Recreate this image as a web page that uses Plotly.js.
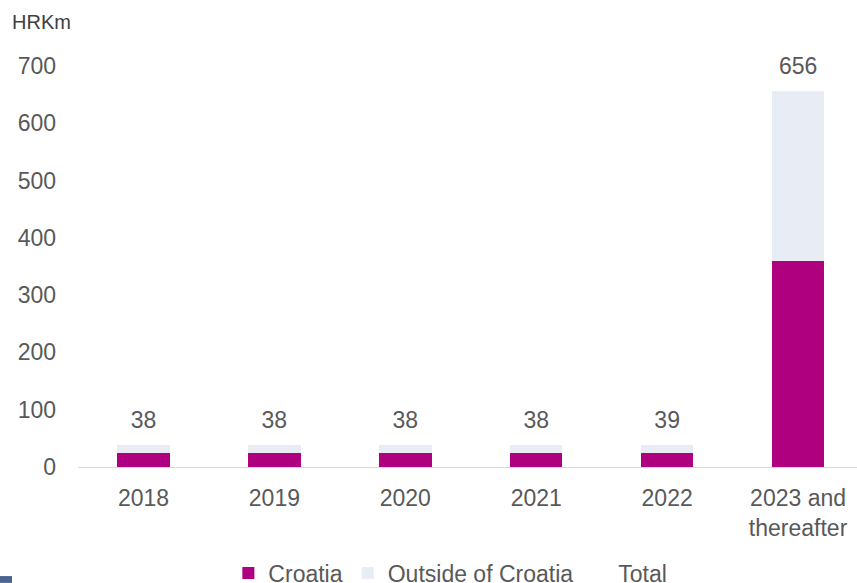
<!DOCTYPE html>
<html>
<head>
<meta charset="utf-8">
<script src="https://cdn.plot.ly/plotly-3.0.1.min.js"></script>
<style>html,body{margin:0;padding:0;background:#fff;}#chart{width:857px;height:583px;}</style>
</head>
<body>
<div id="chart"></div>
<script>
const categories = ["2018", "2019", "2020", "2021", "2022", "2023 and<br>thereafter"];
const croatia = [24, 24, 24, 24, 24, 360];
const outside = [14, 14, 14, 14, 15, 296];
const total = [38, 38, 38, 38, 39, 656];
const unitLabel = "HRKm";

const font = "Liberation Sans, Arial, sans-serif";
const grey = "#595959";

const traces = [
  {type: "bar", name: "Croatia", x: categories, y: croatia,
   marker: {color: "#AE007F"}, hoverinfo: "skip"},
  {type: "bar", name: "Outside of Croatia", x: categories, y: outside,
   marker: {color: "#E8ECF4"}, hoverinfo: "skip"},
  {type: "scatter", mode: "markers+text", name: "Total", x: categories, y: total,
   text: total.map(String), textposition: "top center",
   textfont: {family: font, size: 23, color: grey},
   marker: {size: 16, color: "rgba(0,0,0,0)"}, cliponaxis: false, hoverinfo: "skip"}
];

const layout = {
  width: 857, height: 583,
  margin: {l: 78, r: 0, t: 66, b: 116},
  paper_bgcolor: "#fff", plot_bgcolor: "#fff",
  barmode: "stack", bargap: 0.6,
  font: {family: font, size: 23, color: grey},
  showlegend: true,
  legend: {orientation: "h", x: 0.478, xanchor: "center", xref: "paper",
           yref: "container", y: 0.017, yanchor: "middle",
           font: {family: font, size: 23, color: grey}, traceorder: "normal",
           itemwidth: 30, tracegroupgap: 0},
  xaxis: {type: "category", range: [-0.5, 5.45], showgrid: false, zeroline: false,
          showline: true, linecolor: "#D9D9D9", linewidth: 1, ticks: "",
          ticklabelstandoff: 10, tickfont: {family: font, size: 23, color: grey}},
  yaxis: {range: [0, 700], dtick: 100, showgrid: false, zeroline: false, showline: false,
          ticks: "", ticklabelstandoff: 21, tickfont: {family: font, size: 23, color: grey}},
  annotations: [{text: unitLabel, xref: "paper", yref: "paper", x: -0.087, xanchor: "left",
                 y: 1.11, yanchor: "middle", showarrow: false,
                 font: {family: font, size: 20, color: "#404040"}}],
  shapes: [{type: "rect", xref: "paper", yref: "paper", x0: -0.1001, x1: -0.0847,
            y0: -0.289, y1: -0.272, fillcolor: "#4A6591", line: {width: 0}}]
};

Plotly.newPlot("chart", traces, layout, {staticPlot: true, displayModeBar: false});
</script>
</body>
</html>
